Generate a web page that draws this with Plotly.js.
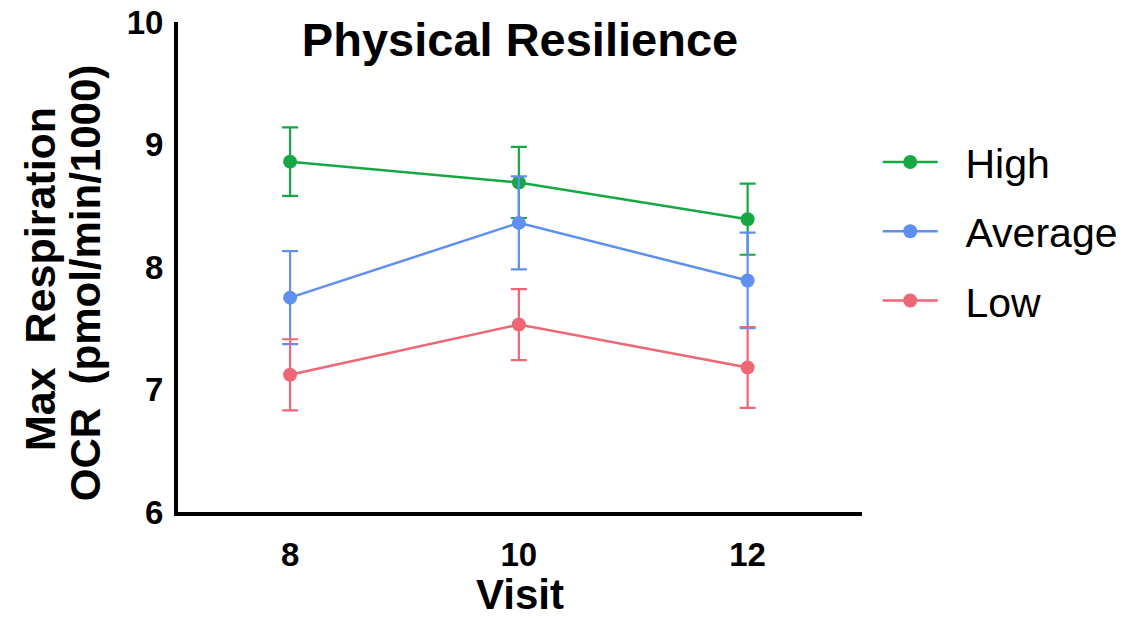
<!DOCTYPE html>
<html>
<head>
<meta charset="utf-8">
<script src="https://cdn.plot.ly/plotly-3.0.1.min.js"></script>
<style>html,body{margin:0;padding:0;background:#fff;}#chart{width:1144px;height:618px;}</style>
</head>
<body>
<div id="chart"></div>
<script>
const visits = [8, 10, 12];
const groupNames = ["High", "Average", "Low"];
const highMean = [8.86, 8.69, 8.39];
const highErr = [0.28, 0.29, 0.29];
const averageMean = [7.75, 8.36, 7.89];
const averageErr = [0.38, 0.38, 0.39];
const lowMean = [7.12, 7.53, 7.18];
const lowErr = [0.29, 0.29, 0.33];
const groupColors = ["#17a843", "#5f8ff0", "#ee6775"];
const yTicks = [6, 7, 8, 9, 10];

const means = [highMean, averageMean, lowMean];
const errs = [highErr, averageErr, lowErr];

const FONT = "Liberation Sans, Arial, sans-serif";

const traces = groupNames.map((name, i) => ({
  type: "scatter",
  mode: "lines+markers",
  name: "&nbsp;&nbsp;" + name,
  legendgroup: name,
  x: visits,
  y: means[i],
  error_y: {type: "data", array: errs[i], visible: true, color: groupColors[i], thickness: 2.2, width: 8},
  line: {color: groupColors[i], width: 2.5},
  marker: {color: groupColors[i], size: 14},
  cliponaxis: false
}));

const layout = {
  width: 1144, height: 618,
  margin: {l: 178, r: 282, t: 22, b: 106},
  paper_bgcolor: "#fff", plot_bgcolor: "#fff",
  showlegend: true,
  title: {text: "<b>Physical Resilience</b>", font: {family: FONT, size: 47, color: "#000"},
          x: 0.5, xref: "paper", y: 0.936, yref: "container", yanchor: "middle"},
  xaxis: {
    range: [7.02, 13.0], tickvals: visits, ticktext: visits.map(String),
    showgrid: false, zeroline: false, showline: true, linecolor: "#000", linewidth: 4,
    ticks: "", ticklabelstandoff: 10,
    tickfont: {family: FONT, size: 33, color: "#000", weight: "bold"},
    title: {text: "<b>Visit</b>", font: {family: FONT, size: 42, color: "#000"}, standoff: 2}
  },
  yaxis: {
    range: [6, 10], tickvals: yTicks,
    showgrid: false, zeroline: false, showline: true, linecolor: "#000", linewidth: 4,
    ticks: "", ticklabelstandoff: 4,
    tickfont: {family: FONT, size: 33, color: "#000", weight: "bold"}
  },
  legend: {
    x: 1.023, xanchor: "left", y: 0.782, yanchor: "top",
    font: {family: FONT, size: 41, color: "#000"},
    itemwidth: 55, tracegroupgap: 13, traceorder: "grouped",
    bgcolor: "rgba(0,0,0,0)"
  },
  annotations: [
    {text: "<b>Max&nbsp;&nbsp;Respiration</b>", textangle: -90, xref: "paper", yref: "paper",
     x: -0.2018, y: 0.4755, xanchor: "center", yanchor: "middle", showarrow: false,
     font: {family: FONT, size: 43, color: "#000"}},
    {text: "<b>OCR&nbsp;&nbsp;(pmol/min/1000)</b>", textangle: -90, xref: "paper", yref: "paper",
     x: -0.136, y: 0.467, xanchor: "center", yanchor: "middle", showarrow: false,
     font: {family: FONT, size: 42, color: "#000"}}
  ]
};

Plotly.newPlot("chart", traces, layout, {displayModeBar: false, staticPlot: true});
</script>
</body>
</html>
